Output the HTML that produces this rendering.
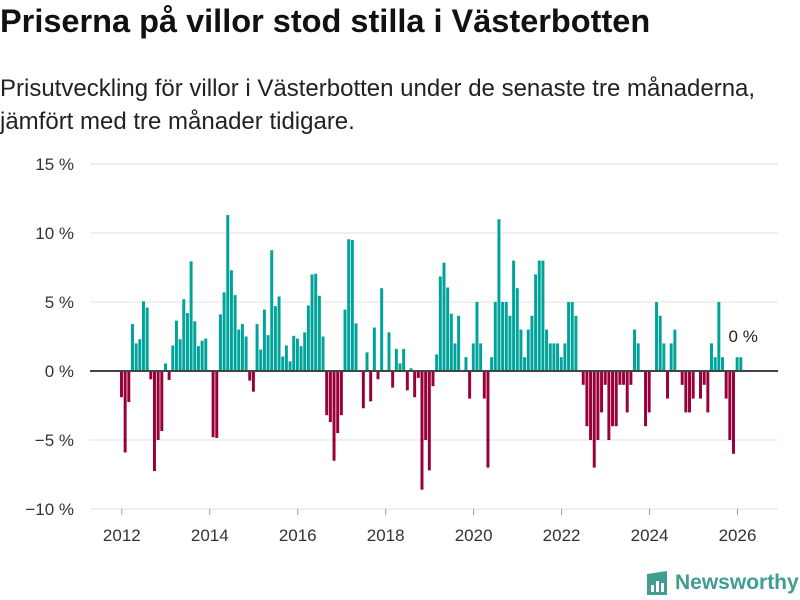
<!DOCTYPE html>
<html><head><meta charset="utf-8"><style>
body{margin:0;background:#fff;font-family:"Liberation Sans",sans-serif;}
#wrap{position:relative;width:800px;height:600px;overflow:hidden;}
h1{position:absolute;left:0;top:3px;margin:0;font-size:32.5px;font-weight:bold;color:#111;white-space:nowrap;}
#sub{position:absolute;left:0;top:72px;margin:0;font-size:24px;line-height:33px;color:#222;white-space:nowrap;}
svg{position:absolute;left:0;top:0;}
#logo{position:absolute;left:645px;top:570px;display:flex;align-items:center;}
#logo span{font-size:21px;font-weight:bold;color:#3f9d92;margin-left:6px;}
</style></head><body>
<div id="wrap">
<h1>Priserna på villor stod stilla i Västerbotten</h1>
<p id="sub">Prisutveckling för villor i Västerbotten under de senaste tre månaderna,<br>jämfört med tre månader tidigare.</p>
<svg id="chart" width="800" height="600"></svg>
<div id="logo">
<svg width="24" height="26" style="position:static"><path d="M2 4 L22 1 L22 25 L2 25 Z" fill="#3f9d92"/><rect x="6" y="15" width="3" height="7" fill="#fff"/><rect x="11" y="11" width="3" height="11" fill="#fff"/><rect x="16" y="13" width="3" height="9" fill="#fff"/></svg>
<span>Newsworthy</span></div>
</div>
<script>
const values = [-1.9,-5.9,-2.25,3.4,2.0,2.3,5.05,4.6,-0.6,-7.25,-5.0,-4.35,0.55,-0.65,1.85,3.65,2.3,5.2,4.2,7.95,3.6,1.8,2.2,2.35,0,-4.8,-4.85,4.1,5.7,11.3,7.3,5.5,3.0,3.4,2.5,-0.7,-1.5,3.4,1.55,4.45,2.6,8.75,4.7,5.4,
1.05,1.85,0.7,2.55,2.35,1.8,2.8,4.75,7.0,7.05,5.45,2.5,-3.2,-3.7,-6.5,-4.5,-3.2,4.45,9.55,9.5,3.45,0,-2.7,1.35,-2.2,3.15,-0.6,6.0,0,2.8,-1.2,1.6,0.55,1.6,-1.4,0.2,-1.9,-0.5,-8.6,-5.0,-7.2,-1.1,1.2,6.85,
7.85,6.05,4.15,2.0,4.0,0,1.0,-2.0,2.0,5.0,2.0,-2.0,-7.0,1.0,5.0,11.0,5.0,5.0,4.0,8.0,6.0,3.0,1.0,3.0,4.0,7.0,8.0,8.0,3.0,2,2,2,1,2,5,5,4,0,-1,-4,-5,-7,-5,
-3,-1,-5,-4,-4,-1,-1,-3,-1,3,2,0,-4,-3,0,5,4,2,-2,2,3,0,-1,-3,-3,-2,0,-2,-1,-3,2,1,5,1,-2,-5,-6,1,1];
const yTicks = [15,10,5,0,-5,-10];
const yTickLabels = ["15 %","10 %","5 %","0 %","−5 %","−10 %"];
const xYears = [2012,2014,2016,2018,2020,2022,2024,2026];
const lastLabel = "0 %";

const svg = document.getElementById('chart');
const NS = 'http://www.w3.org/2000/svg';
const x0 = 120, x1 = 743, step = (x1 - x0) / values.length;
const y = v => 371 - v * 13.8;
const xi = i => x0 + i * step;
function mk(tag, attrs){const e=document.createElementNS(NS,tag);for(const k in attrs)e.setAttribute(k,attrs[k]);svg.appendChild(e);return e;}
yTicks.forEach((t,k)=>{
  if(t!==0){const g=mk('line',{x1:90,x2:778,y1:y(t),y2:y(t),stroke:'#e0e0e0','stroke-width':1});
  
  }
  const l=mk('text',{x:74,y:y(t)+6,'text-anchor':'end','font-size':17,fill:'#333','font-family':'Liberation Sans, sans-serif'});
  l.textContent=yTickLabels[k];
  
  
});
values.forEach((v,i)=>{
  const top=Math.min(y(v),y(0)), h=Math.abs(y(v)-y(0));
  const r=mk('rect',{x:xi(i),y:top,width:step-0.7,height:h,fill:v>=0?'#00a39a':'#99003a'});
  
  
});
const z=mk('line',{x1:90,x2:778,y1:y(0),y2:y(0),stroke:'#444','stroke-width':2});


xYears.forEach(Y=>{
  const cx=xi((Y-2012)*12)+step/2;
  const tk=mk('line',{x1:cx,x2:cx,y1:509,y2:515,stroke:'#999','stroke-width':1});
  
  
  const t=mk('text',{x:cx,y:541,'text-anchor':'middle','font-size':17,fill:'#333','font-family':'Liberation Sans, sans-serif'});
  t.textContent=Y;
  
  
});
const li=values.length-1;
const ll=mk('text',{x:xi(li)+step/2+2,y:Math.min(y(values[li]),y(0))-15,'text-anchor':'middle','font-size':17,fill:'#222','font-family':'Liberation Sans, sans-serif'});
ll.textContent=lastLabel;


</script>
</body></html>
